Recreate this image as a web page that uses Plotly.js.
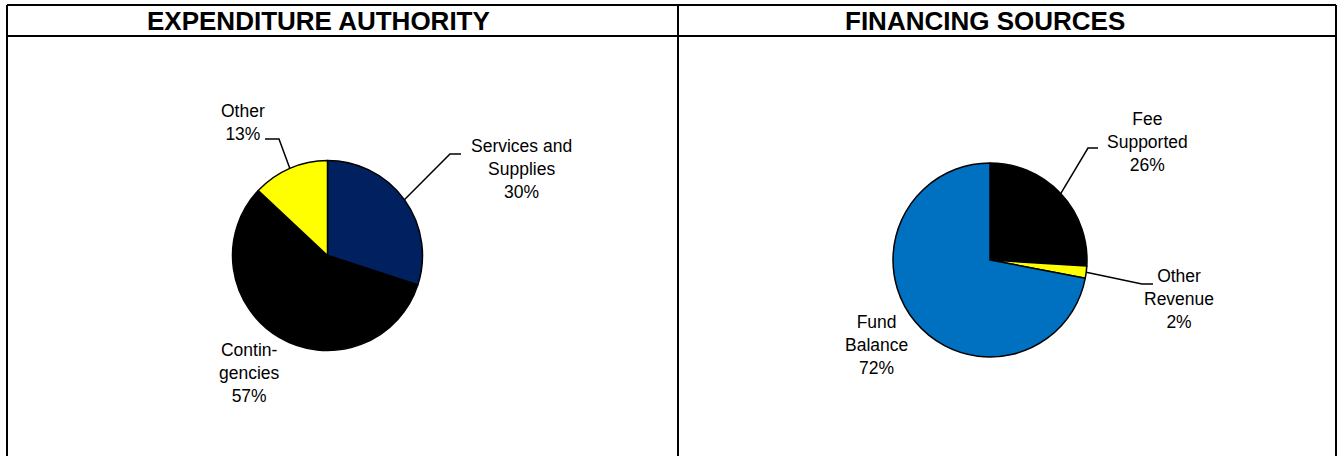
<!DOCTYPE html>
<html>
<head>
<meta charset="utf-8">
<script src="https://cdn.plot.ly/plotly-3.0.1.min.js"></script>
<style>
  html, body { margin: 0; padding: 0; background: #fff; }
  #chart { width: 1340px; height: 456px; }
</style>
</head>
<body>
<div id="chart"></div>
<script>
// data
const panelTitles = ["EXPENDITURE AUTHORITY", "FINANCING SOURCES"];

const expLabels = ["Services and Supplies", "Contingencies", "Other"];
const expText = ["Services and<br>Supplies", "Contin-<br>gencies", "Other"];
const expValues = [30, 57, 13];
const expColors = ["#002060", "#000000", "#FFFF00"];

const finLabels = ["Fee Supported", "Other Revenue", "Fund Balance"];
const finText = ["Fee<br>Supported", "Other<br>Revenue", "Fund<br>Balance"];
const finValues = [26, 2, 72];
const finColors = ["#000000", "#FFFF00", "#0070C0"];

document.addEventListener("DOMContentLoaded", function() {
    const W = 1340, H = 456;
    const px = x => x / W;
    const py = y => 1 - y / H;

    // pie placement in pixels (center + radius)
    const pies = [
        { cx: 327.5, cy: 255.5, r: 95, titleX: 318,
          labels: expLabels, text: expText, values: expValues, colors: expColors,
          // label center and leader elbow / end per slice (null = no leader)
          place: [
              { lx: 521, ly: 169, elbow: [450, 154], end: [461, 154] },
              { lx: 249, ly: 373, elbow: null },
              { lx: 243, ly: 122, elbow: [279, 139], end: [265, 139] }
          ] },
        { cx: 990, cy: 260, r: 97, titleX: 985,
          labels: finLabels, text: finText, values: finValues, colors: finColors,
          place: [
              { lx: 1147, ly: 142, elbow: [1088, 148], end: [1098, 148] },
              { lx: 1179, ly: 299, elbow: [1142, 284], end: [1153, 284] },
              { lx: 876, ly: 345, elbow: null }
          ] }
    ];

    const traces = [];
    const annotations = [];
    const shapes = [];

    pies.forEach(function(p, k) {
        traces.push({
            type: "pie",
            labels: p.labels,
            values: p.values,
            sort: false,
            direction: "clockwise",
            rotation: 0,
            textinfo: "none",
            hoverinfo: "label+percent",
            marker: { colors: p.colors, line: { color: "#000000", width: 1.5 } },
            domain: { x: [px(p.cx - p.r), px(p.cx + p.r)], y: [py(p.cy + p.r), py(p.cy - p.r)] },
            showlegend: false
        });

        annotations.push({
            xref: "paper", yref: "paper", x: px(p.titleX), y: py(21),
            xanchor: "center", yanchor: "middle", showarrow: false,
            text: "<b>" + panelTitles[k] + "</b>",
            font: { family: "Liberation Sans, Arial, sans-serif", size: 26, color: "#000" }
        });

        const total = p.values.reduce((a, b) => a + b, 0);
        let cum = 0;
        p.values.forEach(function(v, i) {
            const mid = (cum + v / 2) / total * 2 * Math.PI;
            cum += v;
            const pct = Math.round(v / total * 100);
            const pl = p.place[i];
            annotations.push({
                xref: "paper", yref: "paper", x: px(pl.lx), y: py(pl.ly),
                xanchor: "center", yanchor: "middle", align: "center", showarrow: false,
                text: p.text[i] + "<br>" + pct + "%",
                font: { family: "Liberation Sans, Arial, sans-serif", size: 17.5, color: "#000" }
            });
            if (pl.elbow) {
                const ex = p.cx + p.r * Math.sin(mid);
                const ey = p.cy - p.r * Math.cos(mid);
                shapes.push({
                    type: "path", xref: "paper", yref: "paper",
                    path: "M " + px(ex) + "," + py(ey) +
                          " L " + px(pl.elbow[0]) + "," + py(pl.elbow[1]) +
                          " L " + px(pl.end[0]) + "," + py(pl.end[1]),
                    line: { color: "#000000", width: 1.5 }
                });
            }
        });
    });

    // panel frame
    const frame = { color: "#000000", width: 2 };
    [[7, 5, 1336, 5], [7, 36, 1336, 36], [7, 5, 7, 456], [678, 5, 678, 456], [1336, 5, 1336, 456]]
        .forEach(function(s) {
            shapes.push({ type: "line", xref: "paper", yref: "paper",
                x0: px(s[0]), y0: py(s[1]), x1: px(s[2]), y1: py(s[3]), line: frame });
        });

    const layout = {
        width: W, height: H,
        margin: { l: 0, r: 0, t: 0, b: 0 },
        paper_bgcolor: "#ffffff",
        plot_bgcolor: "#ffffff",
        annotations: annotations,
        shapes: shapes,
        font: { family: "Liberation Sans, Arial, sans-serif" }
    };

    Plotly.newPlot("chart", traces, layout, { displayModeBar: false, staticPlot: true });
});
</script>
</body>
</html>
